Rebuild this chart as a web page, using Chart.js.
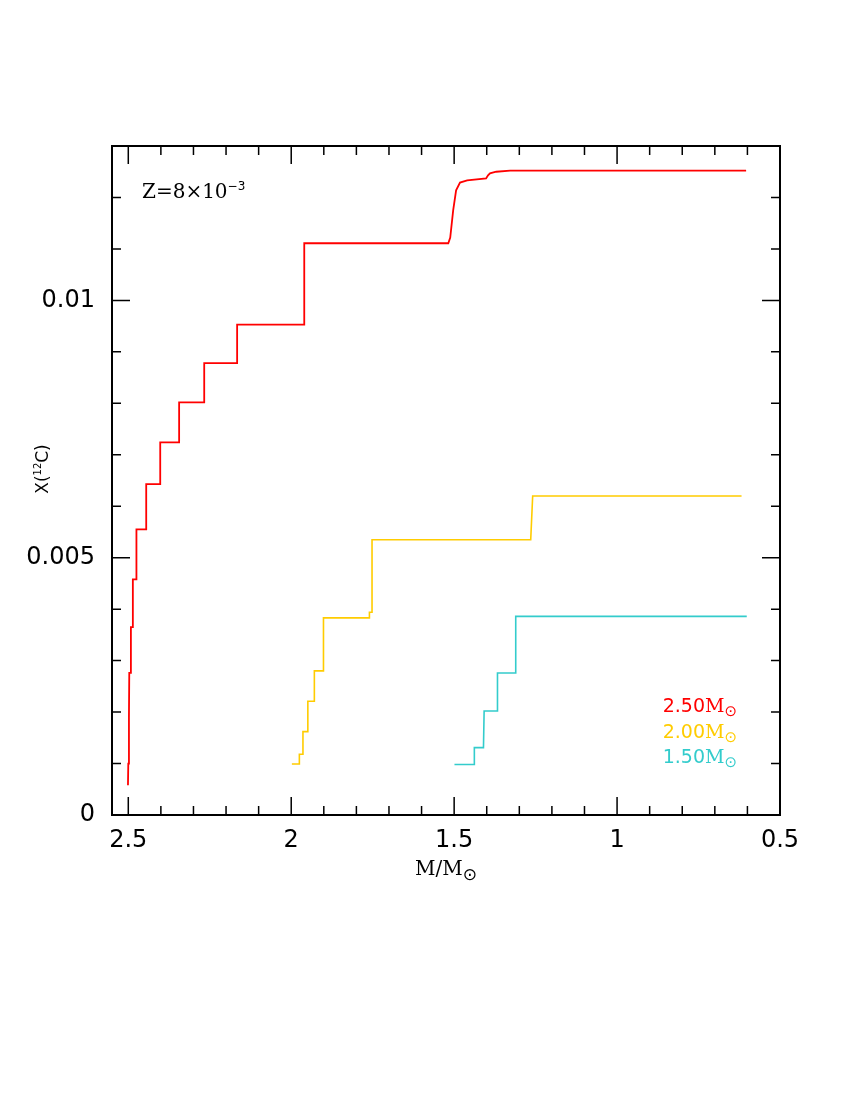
<!DOCTYPE html>
<html>
<head>
<meta charset="utf-8">
<script src="https://cdn.jsdelivr.net/npm/chart.js@4.4.0/dist/chart.umd.min.js"></script>
<style>
  html, body { margin: 0; padding: 0; background: #fff; }
  #wrap { width: 850px; height: 1100px; }
</style>
</head>
<body>
<div id="wrap"><canvas id="c" width="850" height="1100"></canvas></div>
<script>
// Kütle (M/Msun) ve X(12C) değerleri
const m250 = [2.501, 2.500, 2.498, 2.497, 2.492, 2.492, 2.486, 2.486, 2.475, 2.475, 2.445, 2.445,
              2.402, 2.402, 2.344, 2.344, 2.267, 2.267, 2.166, 2.166, 1.960, 1.960, 1.518, 1.512,
              1.503, 1.494, 1.482, 1.460, 1.402, 1.396, 1.390, 1.371, 1.328, 0.604];
const c250 = [0.00058, 0.00100, 0.00190, 0.00276, 0.00276, 0.00365, 0.00365, 0.00458, 0.00458, 0.00555, 0.00555, 0.00643,
              0.00643, 0.00724, 0.00724, 0.00802, 0.00802, 0.00878, 0.00878, 0.00953, 0.00953, 0.01111, 0.01111, 0.01122,
              0.01175, 0.01214, 0.01229, 0.01233, 0.01237, 0.01243, 0.01247, 0.01250, 0.01252, 0.01252];

const m200 = [1.998, 1.975, 1.975, 1.964, 1.964, 1.949, 1.949, 1.929, 1.929, 1.901, 1.901, 1.760,
              1.760, 1.752, 1.752, 1.265, 1.259, 0.618];
const c200 = [0.00099, 0.00099, 0.00118, 0.00118, 0.00162, 0.00162, 0.00221, 0.00221, 0.00280, 0.00280, 0.00383, 0.00383,
              0.00394, 0.00394, 0.00535, 0.00535, 0.00620, 0.00620];

const m150 = [1.499, 1.438, 1.438, 1.410, 1.408, 1.367, 1.367, 1.311, 1.311, 0.602];
const c150 = [0.00098, 0.00098, 0.00131, 0.00131, 0.00202, 0.00202, 0.00276, 0.00276, 0.00386, 0.00386];

const seriesLabels = ['2.50', '2.00', '1.50'];
const seriesColors = ['#ff0000', '#ffcc00', '#33cccc'];

const xTicks = [2.5, 2, 1.5, 1, 0.5];
const yTicks = [0, 0.005, 0.01];

function toPoints(m, c) {
    return m.map((v, i) => ({ x: v, y: c[i] }));
}

// Yazı parçalarını (üst/alt simge) sırayla çizer
function drawRich(ctx, parts, x, y, align) {
    let w = 0;
    parts.forEach(p => { ctx.font = p.font; w += ctx.measureText(p.t).width; });
    let cx = align === 'right' ? x - w : (align === 'center' ? x - w / 2 : x);
    parts.forEach(p => {
        ctx.font = p.font;
        ctx.fillText(p.t, cx, y + (p.dy || 0));
        cx += ctx.measureText(p.t).width;
    });
}

const frameTicks = {
    id: 'frameTicks',
    afterDraw(chart) {
        const ctx = chart.ctx;
        const a = chart.chartArea;
        const xs = chart.scales.x, ys = chart.scales.y;
        ctx.save();
        ctx.strokeStyle = '#000';
        ctx.lineWidth = 1.5;
        ctx.beginPath();
        // x ekseni: 0.1 aralıklı küçük, 0.5 aralıklı büyük çentikler
        for (let k = 5; k <= 25; k++) {
            const px = xs.getPixelForValue(k / 10);
            const len = (k % 5 === 0) ? 18 : 9;
            ctx.moveTo(px, a.bottom); ctx.lineTo(px, a.bottom - len);
            ctx.moveTo(px, a.top); ctx.lineTo(px, a.top + len);
        }
        // y ekseni: 0.001 aralıklı
        for (let k = 0; k <= 12; k++) {
            const py = ys.getPixelForValue(k / 1000);
            const len = (k % 5 === 0) ? 18 : 9;
            ctx.moveTo(a.left, py); ctx.lineTo(a.left + len, py);
            ctx.moveTo(a.right, py); ctx.lineTo(a.right - len, py);
        }
        ctx.stroke();
        ctx.lineWidth = 2;
        ctx.strokeRect(a.left, a.top, a.right - a.left, a.bottom - a.top);

        // Metinler
        ctx.fillStyle = '#000';
        ctx.textBaseline = 'alphabetic';
        const serif = '"DejaVu Serif", serif';
        const sans = '"DejaVu Sans", sans-serif';
        drawRich(ctx, [
            { t: 'Z=8×10', font: '20px ' + serif },
            { t: '−3', font: '12px ' + sans, dy: -8 }
        ], a.left + 30, 198, 'left');

        drawRich(ctx, [
            { t: 'M/M', font: '20px ' + serif },
            { t: '⊙', font: '17px ' + sans, dy: 5 }
        ], 446, 875, 'center');

        ctx.save();
        ctx.translate(48, 469);
        ctx.rotate(-Math.PI / 2);
        drawRich(ctx, [
            { t: 'X(', font: '17px ' + sans },
            { t: '12', font: '10px ' + sans, dy: -7 },
            { t: 'C)', font: '17px ' + sans }
        ], 0, 0, 'center');
        ctx.restore();

        // Seri etiketleri
        seriesLabels.forEach((lab, i) => {
            ctx.fillStyle = seriesColors[i];
            drawRich(ctx, [
                { t: lab, font: '19px ' + sans },
                { t: 'M', font: '19px ' + serif },
                { t: '⊙', font: '15px ' + sans, dy: 4 }
            ], 737, 712 + i * 25.5, 'right');
        });
        ctx.restore();
    }
};

const ctx = document.getElementById('c').getContext('2d');
new Chart(ctx, {
    type: 'scatter',
    data: {
        datasets: [
            { label: seriesLabels[0], data: toPoints(m250, c250) },
            { label: seriesLabels[1], data: toPoints(m200, c200) },
            { label: seriesLabels[2], data: toPoints(m150, c150) }
        ].map((d, i) => Object.assign(d, {
            showLine: true,
            borderColor: seriesColors[i],
            backgroundColor: seriesColors[i],
            borderWidth: i === 0 ? 1.8 : 1.6,
            pointRadius: 0,
            tension: 0
        }))
    },
    options: {
        responsive: false,
        animation: false,
        layout: { padding: { left: 0, top: 146, right: 70, bottom: 225 } },
        plugins: {
            legend: { display: false },
            tooltip: { enabled: false }
        },
        scales: {
            x: {
                type: 'linear',
                reverse: true,
                min: 0.5,
                max: 2.55,
                grid: { display: false, drawTicks: false },
                border: { display: false },
                afterBuildTicks: s => { s.ticks = xTicks.map(v => ({ value: v })); },
                afterFit: s => { s.height = 60; },
                ticks: {
                    color: '#000',
                    font: { family: '"DejaVu Sans", sans-serif', size: 24 },
                    padding: 11,
                    maxRotation: 0,
                    autoSkip: false,
                    callback: v => String(v)
                }
            },
            y: {
                type: 'linear',
                min: 0,
                max: 0.013,
                grid: { display: false, drawTicks: false },
                border: { display: false },
                afterBuildTicks: s => { s.ticks = yTicks.map(v => ({ value: v })); },
                afterFit: s => { s.width = 112; },
                ticks: {
                    color: '#000',
                    font: { family: '"DejaVu Sans", sans-serif', size: 24 },
                    padding: 17,
                    autoSkip: false,
                    callback: v => String(Number(v.toFixed(4)))
                }
            }
        }
    },
    plugins: [frameTicks]
});
</script>
</body>
</html>
